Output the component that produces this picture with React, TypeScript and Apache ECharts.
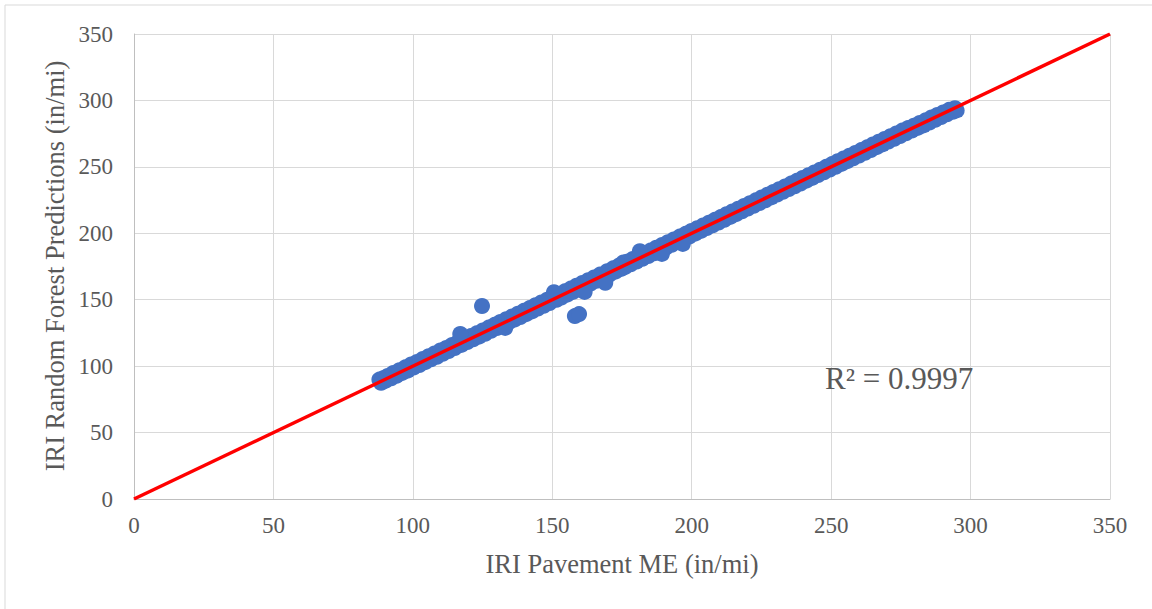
import React, { useEffect, useRef } from "react";
import * as echarts from "echarts";

// IRI Pavement ME (in/mi) – x values
const pavementME: number[] = [
  88.0, 88.6, 89.3, 90.1, 91.0, 92.2, 93.0, 94.1, 95.2, 96.0, 97.3, 98.1, 99.4, 100.2, 101.5,
  102.3, 103.6, 104.4, 105.7, 106.5, 107.8, 108.6, 109.9, 110.7, 112.0, 112.8, 114.1, 115.0,
  116.2, 117.4, 118.6, 119.5, 120.8, 121.6, 122.9, 123.7, 125.1, 125.9, 127.2, 128.0, 129.3,
  130.1, 131.4, 132.2, 133.5, 134.3, 135.6, 136.4, 137.7, 138.5, 139.8, 140.6, 141.9, 142.7,
  144.0, 144.8, 146.1, 146.9, 148.2, 149.0, 150.3, 151.5, 152.4, 153.2, 154.5, 155.3, 156.6,
  157.4, 158.7, 159.5, 160.8, 161.6, 162.9, 163.7, 165.0, 165.8, 167.1, 168.4, 169.7, 170.5,
  171.8, 172.6, 173.9, 174.7, 175.5, 176.0, 176.8, 178.1, 178.9, 180.2, 181.0, 182.3, 183.1,
  184.4, 185.2, 186.5, 187.3, 188.6, 189.4, 190.7, 191.5, 192.8, 193.6, 194.9, 195.7, 197.0,
  197.8, 199.1, 199.9, 201.2, 202.0, 203.3, 204.1, 205.4, 206.2, 207.5, 208.3, 209.6, 210.4,
  211.7, 212.5, 213.8, 214.6, 215.9, 216.7, 218.0, 218.8, 220.1, 220.9, 222.2, 223.0, 224.3,
  225.1, 226.4, 227.2, 228.5, 229.3, 230.6, 231.4, 232.7, 233.5, 234.8, 235.6, 236.9, 237.7,
  239.0, 239.8, 241.1, 241.9, 243.2, 244.0, 245.3, 246.1, 247.4, 248.2, 249.5, 250.3, 251.6,
  252.4, 253.7, 254.5, 255.8, 256.6, 257.9, 258.7, 260.0, 260.8, 262.1, 262.9, 264.2, 265.0,
  266.3, 267.1, 268.4, 269.2, 270.5, 271.3, 272.6, 273.4, 274.7, 275.5, 276.8, 277.6, 278.9,
  279.7, 281.0, 281.8, 283.1, 284.0, 285.2, 286.0, 287.3, 288.1, 289.4, 290.2, 291.5, 292.3,
  293.6, 294.4, 295.0,
];

// IRI Random Forest Predictions (in/mi) – y values
const forestPred: number[] = [
  89.9, 87.5, 90.8, 88.9, 92.6, 90.9, 94.8, 92.8, 97.0, 94.7, 99.1, 96.6, 101.3, 98.9, 103.2,
  100.9, 105.4, 103.0, 107.5, 105.1, 109.6, 107.1, 111.8, 109.3, 113.7, 111.4, 115.9, 113.6,
  118.0, 116.0, 120.4, 118.1, 122.6, 120.2, 124.7, 122.2, 126.9, 124.4, 129.0, 126.6, 131.1,
  128.7, 133.2, 130.8, 135.3, 132.9, 137.4, 135.0, 139.5, 137.0, 141.6, 139.1, 143.7, 141.2,
  145.8, 143.3, 147.9, 145.4, 150.0, 147.5, 152.1, 150.0, 154.2, 151.7, 156.3, 153.8, 158.4,
  155.9, 160.5, 158.0, 162.6, 160.1, 164.7, 162.2, 166.8, 164.3, 168.9, 166.9, 171.5, 169.0,
  173.6, 171.1, 175.7, 173.2, 178.0, 174.5, 178.6, 176.6, 180.7, 178.7, 182.8, 180.8, 184.9,
  182.9, 187.0, 185.0, 189.1, 187.1, 191.2, 189.2, 193.3, 191.3, 195.4, 193.4, 197.5, 195.5,
  199.6, 197.6, 201.7, 199.7, 203.8, 201.8, 205.9, 203.9, 208.0, 206.0, 210.1, 208.1, 212.2,
  210.2, 214.3, 212.3, 216.4, 214.4, 218.5, 216.5, 220.6, 218.6, 222.7, 220.7, 224.8, 222.8,
  226.9, 224.9, 229.0, 227.0, 231.1, 229.1, 233.2, 231.2, 235.3, 233.3, 237.4, 235.4, 239.5,
  237.5, 241.6, 239.6, 243.7, 241.7, 245.8, 243.8, 247.9, 245.9, 250.0, 248.0, 252.1, 250.1,
  254.2, 252.2, 256.3, 254.3, 258.4, 256.4, 260.5, 258.5, 262.6, 260.6, 264.7, 262.7, 266.8,
  264.8, 268.9, 266.9, 271.0, 269.0, 273.1, 271.1, 275.2, 273.2, 277.3, 275.3, 279.2, 277.3,
  281.0, 279.3, 283.0, 281.2, 285.1, 283.3, 287.2, 285.4, 289.1, 287.5, 291.0, 289.6, 292.9,
  291.4, 294.2, 292.5,
];

// Points that stand off the main band
const offBandME: number[] = [117.0, 124.8, 133.1, 150.6, 158.1, 159.6, 161.6, 169.0, 181.4, 189.3, 196.8];
const offBandPred: number[] = [124.2, 145.3, 128.8, 155.6, 137.7, 139.2, 155.9, 162.8, 186.5, 184.5, 192.0];

// 1:1 reference line end points
const lineME: number[] = [0, 350];
const linePred: number[] = [0, 350];

const xTicks = { min: 0, max: 350, interval: 50 };
const yTicks = { min: 0, max: 350, interval: 50 };
const r2Label = "R² = 0.9997";
const xTitle = "IRI Pavement ME (in/mi)";
const yTitle = "IRI Random Forest Predictions (in/mi)";

const SERIF = "Liberation Serif";
const TXT = "#595959";

export default function App() {
  const ref = useRef<HTMLDivElement>(null);

  useEffect(() => {
    if (!ref.current) return;
    const chart = echarts.init(ref.current, undefined, { renderer: "svg" });

    const scatterData: number[][] = pavementME.map((x, i) => [x, forestPred[i]]);
    offBandME.forEach((x, i) => scatterData.push([x, offBandPred[i]]));
    const lineData: number[][] = lineME.map((x, i) => [x, linePred[i]]);

    const axisCommon = {
      type: "value" as const,
      axisLine: { show: true, lineStyle: { color: "#bfbfbf", width: 1 } },
      axisTick: { show: false },
      splitLine: { show: true, lineStyle: { color: "#d9d9d9", width: 1 } },
    };

    chart.setOption({
      animation: false,
      backgroundColor: "#ffffff",
      grid: { left: 134, right: 42, top: 34, bottom: 110, containLabel: false },
      xAxis: {
        ...axisCommon,
        ...xTicks,
        axisLabel: { fontFamily: SERIF, fontSize: 23, color: TXT, margin: 15 },
      },
      yAxis: {
        ...axisCommon,
        ...yTicks,
        axisLabel: { fontFamily: SERIF, fontSize: 23, color: TXT, margin: 21 },
      },
      series: [
        {
          type: "scatter",
          data: scatterData,
          symbol: "circle",
          symbolSize: 16,
          itemStyle: { color: "#4472C4", opacity: 1 },
          z: 2,
        },
        {
          type: "line",
          data: lineData,
          symbol: "none",
          lineStyle: { color: "#FF0000", width: 3.5 },
          z: 3,
        },
      ],
      graphic: [
        {
          type: "rect",
          shape: { x: 5, y: 5, width: 1165, height: 625 },
          style: { fill: "none", stroke: "#d9d9d9", lineWidth: 1 },
          silent: true,
          z: -10,
        },
        {
          type: "text",
          x: 825,
          y: 378,
          style: {
            text: r2Label,
            fontFamily: SERIF,
            fontSize: 31,
            fill: TXT,
            verticalAlign: "middle",
            align: "left",
          },
          z: 10,
        },
        {
          type: "text",
          x: 622,
          y: 564,
          style: {
            text: xTitle,
            fontFamily: SERIF,
            fontSize: 26.5,
            fill: TXT,
            verticalAlign: "middle",
            align: "center",
          },
        },
        {
          type: "text",
          x: 55,
          y: 266,
          rotation: Math.PI / 2,
          style: {
            text: yTitle,
            fontFamily: SERIF,
            fontSize: 26.5,
            fill: TXT,
            verticalAlign: "middle",
            align: "center",
          },
        },
      ],
    });

    return () => chart.dispose();
  }, []);

  return (
    <div
      ref={ref}
      style={{ position: "absolute", left: 0, top: 0, width: 1152, height: 609 }}
    />
  );
}
